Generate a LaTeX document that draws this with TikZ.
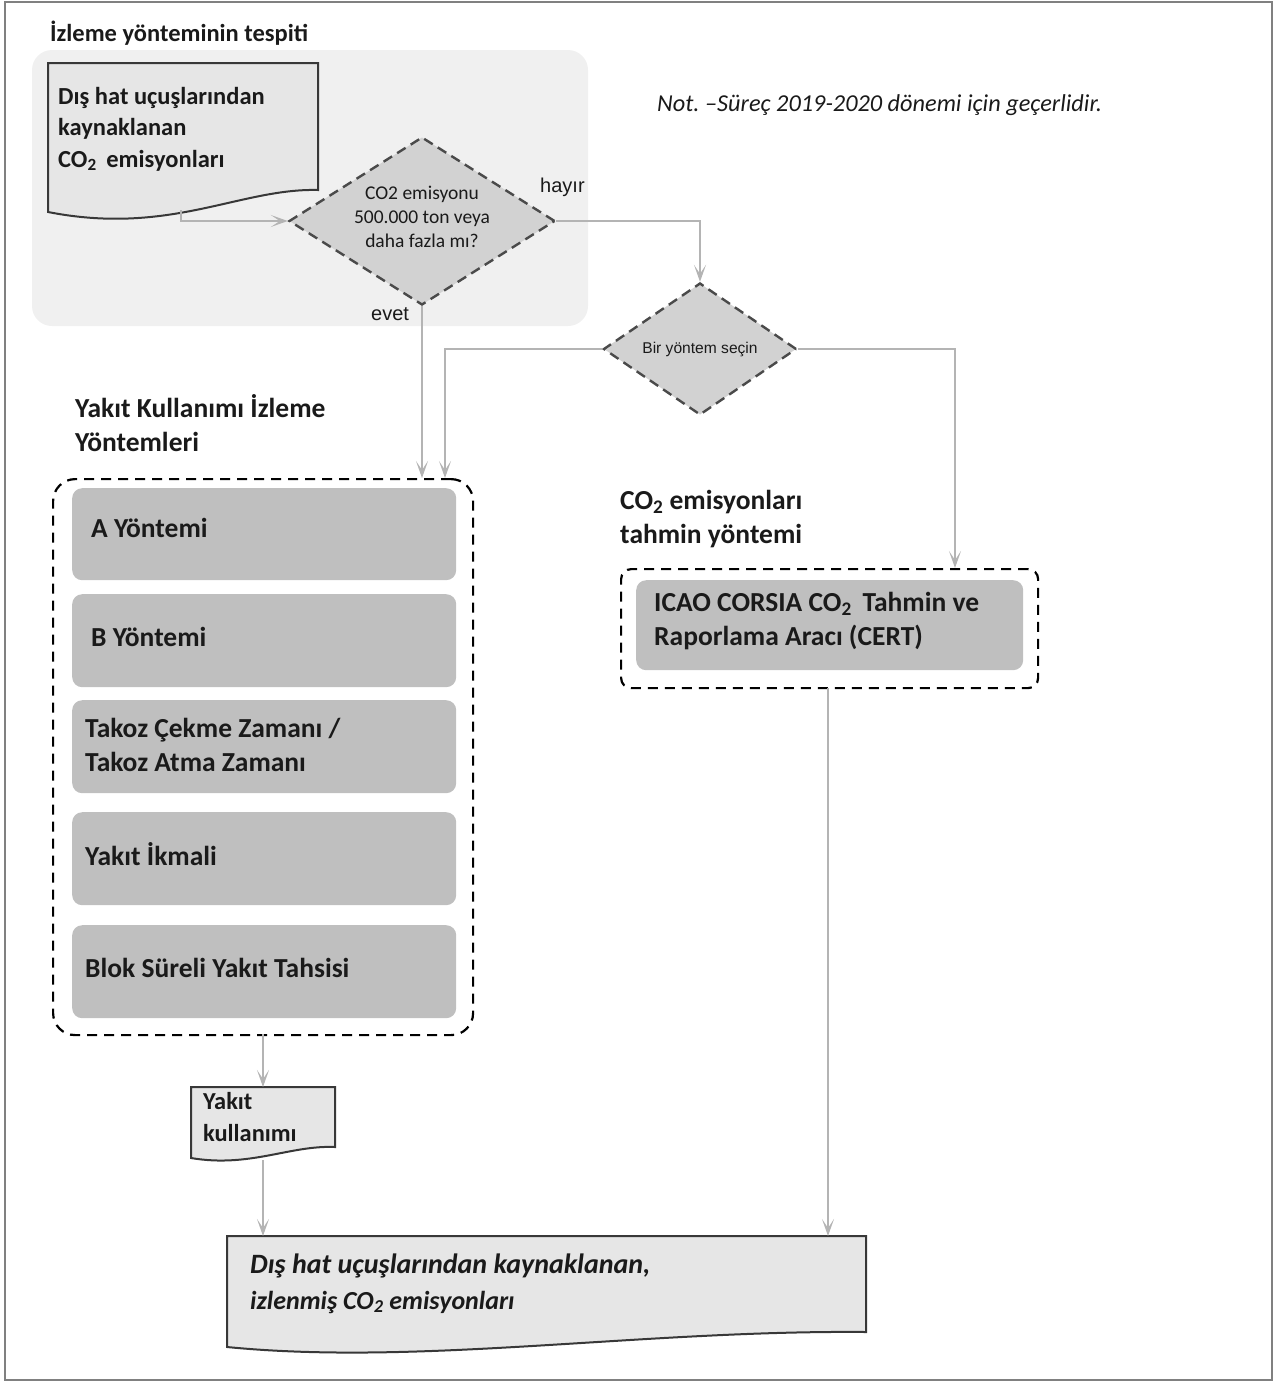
\documentclass[tikz,border=0pt]{standalone}
\usepackage{fontspec}
\setmainfont{Carlito}
\newfontfamily\arialf{Liberation Sans}
\usetikzlibrary{shapes.geometric,arrows.meta}
\definecolor{panelc}{HTML}{F0F0F0}
\definecolor{docfill}{HTML}{E6E6E6}
\definecolor{docline}{HTML}{383838}
\definecolor{diafill}{HTML}{D2D2D2}
\definecolor{dialine}{HTML}{4A4A4A}
\definecolor{boxfill}{HTML}{BFBFBF}
\definecolor{arrc}{HTML}{B4B4B4}
\definecolor{txt}{HTML}{1A1A1A}
\frenchspacing
\begin{document}
\begin{tikzpicture}[x=1pt,y=-1pt,
  conn/.style={draw=arrc,line width=2pt,-{Stealth[length=17pt,width=12pt,inset=9pt]}},
  docshape/.style={fill=docfill,draw=docline,line width=2pt},
  dia/.style={shape=diamond,aspect=1.6,inner sep=0pt,fill=diafill,draw=dialine,line width=2.4pt,dash pattern=on 10pt off 6pt,align=center,text=txt},
  dbox/.style={draw=black,line width=2.2pt,dash pattern=on 10pt off 7pt,rounded corners=22pt,inner sep=0pt},
  ibox/.style={fill=boxfill,rounded corners=10pt,inner sep=0pt,draw=none},
  lbl/.style={anchor=west,inner sep=0pt,align=left,text=txt},
  bigb/.style={font=\fontsize{27.5}{34.5}\selectfont\bfseries},
]
\useasboundingbox (0,0) rectangle (1282,1382);
% outer frame
\draw[draw=gray,line width=1.5pt] (5,2) rectangle (1272,1380);

% title and panel
\node[lbl,font=\fontsize{24.5}{28}\selectfont\bfseries] (title) at (50,33) {İzleme yönteminin tespiti};
\fill[panelc,rounded corners=20pt] (32,50) rectangle (588,326);

% note
\node[lbl,font=\fontsize{24.3}{28}\selectfont\itshape] (note) at (657,105) {Not. –Süreç 2019-2020 dönemi için geçerlidir.};

% document 1
\draw[docshape] (48,63) -- (318,63) -- (318,190) .. controls (240,188) and (170,236) .. (48,212) -- cycle;
\node[lbl,font=\fontsize{24.5}{31.5}\selectfont\bfseries] (doc1) at (58,129) {Dış hat uçuşlarından\\kaynaklanan\\CO\textsubscript{2}\,  emisyonları};
\coordinate (doc1b) at (181,210);

% diamond 1
\node[dia,minimum width=266pt,minimum height=168pt,font=\fontsize{19.5}{24}\selectfont] (d1) at (422,221) {};
\node[inner sep=0pt,align=center,text=txt,font=\fontsize{19.5}{24}\selectfont] (d1t) at (422,217) {CO2 emisyonu\\500.000 ton veya\\daha fazla mı?};
\node[lbl,font=\arialf\fontsize{20}{22}\selectfont] (hayir) at (540,187) {hayır};
\node[lbl,font=\arialf\fontsize{20}{22}\selectfont] (evet) at (371,314) {evet};

% diamond 2
\node[dia,minimum width=193pt,minimum height=132pt,font=\arialf\fontsize{15.6}{18}\selectfont] (d2) at (700,349) {Bir yöntem seçin};

% left group
\node[lbl,bigb] (lhead) at (75,423) {Yakıt Kullanımı İzleme\\Yöntemleri};
\node[dbox,minimum width=420pt,minimum height=556pt,anchor=north west] (lbox) at (52,478) {};
\node[ibox,minimum width=384pt,minimum height=92pt,anchor=north west] (ma) at (72,488) {};
\node[ibox,minimum width=384pt,minimum height=93pt,anchor=north west] (mb) at (72,594) {};
\node[ibox,minimum width=384pt,minimum height=93pt,anchor=north west] (mc) at (72,700) {};
\node[ibox,minimum width=384pt,minimum height=93pt,anchor=north west] (md) at (72,812) {};
\node[ibox,minimum width=384pt,minimum height=93pt,anchor=north west] (me) at (72,925) {};
\node[lbl,bigb] (ta) at (91,528) {A Yöntemi};
\node[lbl,bigb] (tb) at (91,637) {B Yöntemi};
\node[lbl,bigb] (tc) at (85,745) {Takoz Çekme Zamanı /\\Takoz Atma Zamanı};
\node[lbl,bigb] (td) at (85,854) {Yakıt İkmali};
\node[lbl,bigb] (te) at (85,968) {Blok Süreli Yakıt Tahsisi};

% right group
\node[lbl,bigb] (rhead) at (620,519) {CO\textsubscript{2} emisyonları\\tahmin yöntemi};
\node[dbox,minimum width=417pt,minimum height=119pt,anchor=north west,rounded corners=10pt] (rbox) at (620,568) {};
\node[ibox,minimum width=387pt,minimum height=90pt,anchor=north west] (cert) at (636,580) {};
\node[lbl,bigb] (tcert) at (654,621) {ICAO CORSIA CO\textsubscript{2}\,  Tahmin ve\\Raporlama Aracı (CERT)};

% document 2
\draw[docshape] (191,1087) -- (335,1087) -- (335,1147) .. controls (290,1145) and (250,1168) .. (191,1158) -- cycle;
\node[lbl,font=\fontsize{24.4}{32}\selectfont\bfseries] (doc2) at (203,1117) {Yakıt\\kullanımı};

% final document
\draw[docshape] (227,1236) -- (866,1236) -- (866,1332) .. controls (640,1330) and (420,1366) .. (227,1347) -- cycle;
\node[lbl,font=\fontsize{28}{36}\selectfont\bfseries\itshape] (fin1) at (250,1266) {Dış hat uçuşlarından kaynaklanan,};
\node[lbl,font=\fontsize{26}{30}\selectfont\bfseries\itshape] (fin2) at (250,1302) {izlenmiş CO\textsubscript{2} emisyonları};

% connector anchor points
\coordinate (lin1) at (422,478);
\coordinate (lin2) at (445,478);
\coordinate (rin) at (955,568);
\coordinate (lout) at (263,1034);
\coordinate (doc2t) at (263,1087);
\coordinate (doc2b) at (263,1160);
\coordinate (fin1t) at (263,1236);
\coordinate (rout) at (828,688);
\coordinate (fin2t) at (828,1236);

% connectors
\draw[conn] (doc1b) |- (d1.west);
\draw[conn] (d1.east) -| (d2.north);
\draw[conn] (d1.south) -- (lin1);
\draw[conn] (d2.west) -| (lin2);
\draw[conn] (d2.east) -| (rin);
\draw[conn] (lout) -- (doc2t);
\draw[conn] (doc2b) -- (fin1t);
\draw[conn] (rout) -- (fin2t);
\end{tikzpicture}
\end{document}
